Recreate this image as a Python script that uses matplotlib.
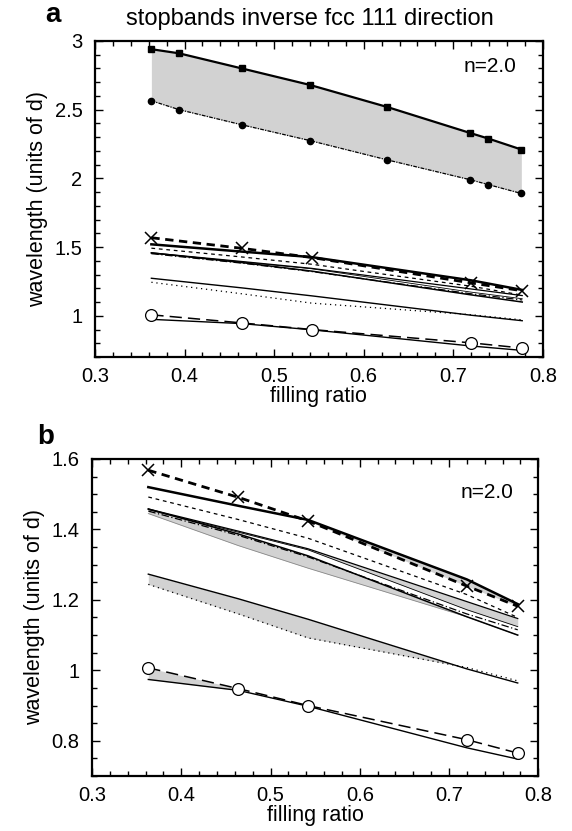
import matplotlib
matplotlib.use("Agg")
import matplotlib.pyplot as plt
from matplotlib.ticker import MultipleLocator, FuncFormatter

plt.rcParams['font.family'] = ['Liberation Sans', 'DejaVu Sans']

# simulation points (filling ratio)
xs = [0.363, 0.464, 0.542, 0.72, 0.777]
cross_y = [1.568, 1.491, 1.424, 1.239, 1.182]
thick_y = [1.520, 1.467, 1.427, 1.258, 1.188]
sdash_y = [1.492, 1.428, 1.375, 1.215, 1.150]
lineB_y = [1.458, 1.395, 1.345, 1.195, 1.147]
lineC_y = [1.456, 1.392, 1.342, 1.172, 1.124]
lineA_y = [1.458, 1.387, 1.325, 1.152, 1.100]
lineD_y = [1.445, 1.354, 1.290, 1.152, 1.100]
dashdot_y = [1.452, 1.383, 1.322, 1.160, 1.115]
lowtop_y = [1.273, 1.203, 1.145, 1.004, 0.964]
lowbot_y = [1.244, 1.160, 1.092, 1.008, 0.970]
circ_y = [1.007, 0.948, 0.900, 0.803, 0.765]
bot_y = [0.974, 0.943, 0.898, 0.780, 0.748]

# first stopband (panel a)
sq_x = [0.363, 0.394, 0.464, 0.540, 0.626, 0.719, 0.739, 0.776]
sq_y = [2.94, 2.91, 2.80, 2.68, 2.52, 2.33, 2.29, 2.21]
dot_y = [2.565, 2.50, 2.39, 2.275, 2.135, 1.99, 1.955, 1.89]

gray = '#d2d2d2'
fs_tick = 14.5
fs_lab = 15.5


def fmt(v, pos):
    return '%g' % round(v, 3)


def style_axes(ax, ymin, ymax, ymaj, ymin_step):
    ax.set_xlim(0.3, 0.8)
    ax.set_ylim(ymin, ymax)
    ax.xaxis.set_major_locator(MultipleLocator(0.1))
    ax.xaxis.set_minor_locator(MultipleLocator(0.02))
    ax.yaxis.set_major_locator(MultipleLocator(ymaj))
    ax.yaxis.set_minor_locator(MultipleLocator(ymin_step))
    ax.xaxis.set_major_formatter(FuncFormatter(fmt))
    ax.yaxis.set_major_formatter(FuncFormatter(fmt))
    ax.tick_params(which='both', direction='in', top=True, right=True, width=1)
    ax.tick_params(which='major', length=6, labelsize=fs_tick, pad=9)
    ax.tick_params(axis='x', which='major', pad=7)
    ax.tick_params(which='minor', length=3.5)
    for s in ax.spines.values():
        s.set_linewidth(1.6)
    ax.set_xlabel('filling ratio', fontsize=fs_lab, labelpad=0)
    ax.set_ylabel('wavelength (units of d)', fontsize=fs_lab, labelpad=5)


def draw_lines(ax):
    ax.plot(xs, cross_y, color='k', lw=2.0, ls=(0, (3, 2)), marker='x', ms=9, mew=1.1)
    ax.plot(xs, thick_y, color='k', lw=1.8)
    ax.plot(xs, sdash_y, color='k', lw=0.9, ls=(0, (3, 3)))
    ax.plot(xs, lineB_y, color='k', lw=0.9)
    ax.plot(xs, lineC_y, color='k', lw=0.6)
    ax.plot(xs, lineA_y, color='k', lw=1.1)
    ax.plot(xs, dashdot_y, color='k', lw=0.9, ls=(0, (6, 2, 1, 2)))
    ax.plot(xs, lowtop_y, color='k', lw=1.0)
    ax.plot(xs, lowbot_y, color='k', lw=0.9, ls=(0, (1, 3)))
    ax.plot(xs, bot_y, color='k', lw=1.0)
    ax.plot(xs, circ_y, color='k', lw=1.1, ls=(0, (8, 4)), marker='o', ms=8.5,
            mfc='white', mec='k', mew=0.9)


fig = plt.figure(figsize=(5.72, 8.31), dpi=100)

# panel a
ax1 = fig.add_axes([0.166, 0.5704, 0.783, 0.3803])
ax1.fill_between(sq_x, sq_y, dot_y, color=gray, lw=0)
ax1.plot(sq_x, sq_y, color='k', lw=1.6, marker='s', ms=4.5)
ax1.plot(sq_x, dot_y, color='k', lw=0.9, ls=(0, (3, 1, 1, 1)), marker='o', ms=4.5)
draw_lines(ax1)
style_axes(ax1, 0.7, 3.0, 0.5, 0.1)
ax1.text(0.942, 0.92, 'n=2.0', transform=ax1.transAxes, ha='right', va='center', fontsize=15)
fig.text(0.542, 0.977, 'stopbands inverse fcc 111 direction', ha='center', va='center', fontsize=17)
fig.text(0.093, 0.982, 'a', ha='center', va='center', fontsize=20, fontweight='bold')

# panel b
ax2 = fig.add_axes([0.161, 0.0662, 0.780, 0.3815])
ax2.fill_between(xs, thick_y, cross_y, where=[t > c for t, c in zip(thick_y, cross_y)],
                 interpolate=True, color=gray, lw=0)
ax2.fill_between(xs, lineB_y, lineC_y, color=gray, lw=0)
ax2.fill_between(xs, lineA_y, lineD_y, color=gray, lw=0)
ax2.fill_between(xs, lowtop_y, lowbot_y, where=[t > b for t, b in zip(lowtop_y, lowbot_y)],
                 interpolate=True, color=gray, lw=0)
ax2.fill_between(xs[:2], circ_y[:2], bot_y[:2], color=gray, lw=0)
ax2.plot(xs, lineD_y, color='#888888', lw=0.6)
draw_lines(ax2)
style_axes(ax2, 0.7, 1.6, 0.2, 0.05)
ax2.text(0.944, 0.893, 'n=2.0', transform=ax2.transAxes, ha='right', va='center', fontsize=15)
fig.text(0.08, 0.474, 'b', ha='center', va='center', fontsize=20, fontweight='bold')

fig.savefig('out.png', dpi=100)
